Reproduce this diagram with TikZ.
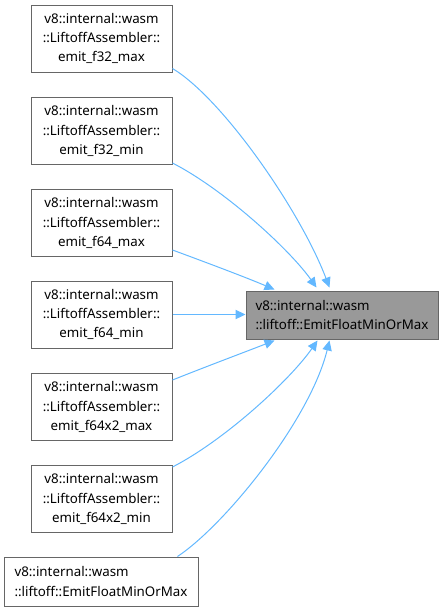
\documentclass[tikz,border=0pt]{standalone}
\usepackage{fontspec}
\setmainfont{Noto Sans}
\usetikzlibrary{calc,arrows.meta}

\definecolor{edgeblue}{HTML}{63B8FF}
\definecolor{framegray}{HTML}{666666}
\definecolor{callgray}{HTML}{999999}

\tikzset{
  caller/.style={draw=framegray, fill=white, line width=0.75pt, inner sep=0pt,
    align=center, minimum width=105.75pt, minimum height=50.25pt,
    font=\fontsize{10}{14.5}\selectfont},
  callee/.style={caller, fill=callgray, align=left,
    minimum width=144pt, minimum height=36pt},
  callarrow/.style={draw=edgeblue, line width=0.75pt,
    -{Triangle[length=7.5pt,width=7pt]}}
}

\begin{document}
\begin{tikzpicture}[x=0.75pt, y=-0.75pt]
  % page frame in pixel units
  \useasboundingbox (0,0) rectangle (443,612);

  % the function that is called
  \node[callee] (emit) at (342,315)
    {v8::internal::wasm\\::liftoff::EmitFloatMinOrMax};

  % the assembler methods that call it
  \foreach \id/\op/\y in {f32max/f32\_max/38.5, f32min/f32\_min/131,
      f64max/f64\_max/223, f64min/f64\_min/314.5,
      f64xmax/f64x2\_max/407, f64xmin/f64x2\_min/499}{
    \node[caller] (\id) at (101.5,\y)
      {v8::internal::wasm\\::LiftoffAssembler::\\emit\_\op};
  }

  % the recursive caller
  \node[caller, align=left, minimum width=145.5pt, minimum height=36.75pt]
    (self) at (101,581.5) {v8::internal::wasm\\::liftoff::EmitFloatMinOrMax};

  % call edges
  \draw[callarrow] ($(f32max.south east)+(0,-4)$)
    .. controls (222,98) and (300,210) .. ($(emit.north west)+(84,-3)$);
  \draw[callarrow] ($(f32min.south east)+(0,-2)$)
    .. controls (225,190) and (290,250) .. ($(emit.north west)+(71,-3)$);
  \draw[callarrow] ($(f64max.south east)+(0,-7)$)
    .. controls (205,262) and (245,277) .. ($(emit.north west)+(29,-1)$);
  \draw[callarrow] (f64min.east) -- (emit.west |- f64min.east);
  \draw[callarrow] ($(f64xmax.north east)+(0,7)$)
    .. controls (205,367) and (245,352) .. ($(emit.south west)+(29,1)$);
  \draw[callarrow] ($(f64xmin.north east)+(0,2)$)
    .. controls (225,440) and (290,380) .. ($(emit.south west)+(72,1)$);
  \draw[callarrow] ($(self.north west)+(174,0)$)
    .. controls (225,525) and (310,420) .. ($(emit.south west)+(84,1)$);
\end{tikzpicture}
\end{document}
